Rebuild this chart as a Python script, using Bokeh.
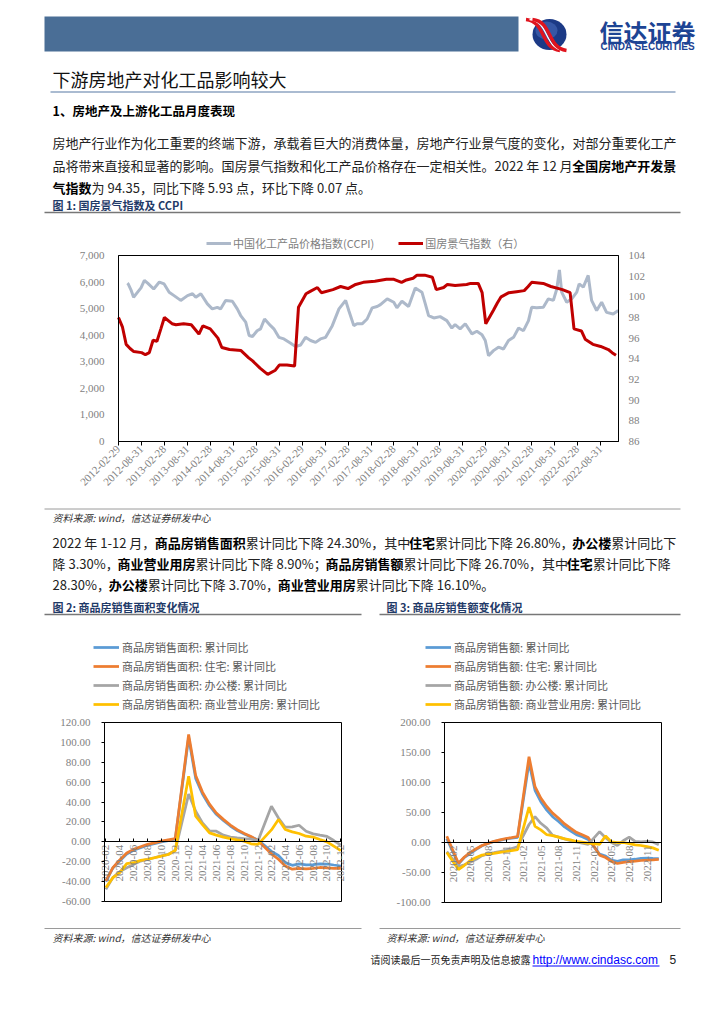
import re
import pandas as pd
from math import pi
from bokeh.plotting import figure
from bokeh.models import (Range1d, LinearAxis, DatetimeAxis, NumeralTickFormatter, FixedTicker, Legend)
from bokeh.embed import file_html
from bokeh.resources import INLINE
from bokeh.core.properties import value

CJK = "Noto Sans CJK SC"
SERIF = "Liberation Serif"
SANS = "Liberation Sans"

# ---------------- Figure 1 data ----------------
ccpi_dates = ["2012-05-10", "2012-05-16", "2012-06-07", "2012-06-28", "2012-07-30", "2012-08-26",
              "2012-09-22", "2012-10-18", "2012-12-05", "2013-01-19", "2013-02-26", "2013-04-07",
              "2013-05-16", "2013-07-08", "2013-08-31", "2013-10-10", "2013-11-05", "2013-12-15",
              "2014-02-05", "2014-03-16", "2014-04-25", "2014-05-21", "2014-06-30", "2014-08-23",
              "2014-10-01", "2014-10-28", "2014-12-07", "2015-01-03", "2015-01-30", "2015-03-08",
              "2015-04-04", "2015-05-06", "2015-06-23", "2015-07-19", "2015-08-28", "2015-10-07",
              "2015-11-30", "2016-01-08", "2016-02-17", "2016-03-27", "2016-05-06", "2016-06-15",
              "2016-07-24", "2016-09-03", "2016-10-26", "2016-12-18", "2017-02-09", "2017-03-06",
              "2017-04-15", "2017-05-11", "2017-06-20", "2017-07-30", "2017-09-08", "2017-10-18",
              "2017-11-13", "2018-01-06", "2018-02-27", "2018-03-24", "2018-05-03", "2018-06-25",
              "2018-08-17", "2018-10-09", "2018-11-05", "2018-12-01", "2019-01-11", "2019-03-03",
              "2019-04-25", "2019-06-04", "2019-06-30", "2019-08-09", "2019-09-19", "2019-11-11",
              "2019-12-20", "2020-01-30", "2020-02-25", "2020-03-22", "2020-04-30", "2020-06-09",
              "2020-07-19", "2020-08-28", "2020-10-07", "2020-11-16", "2020-12-25", "2021-02-03",
              "2021-02-28", "2021-04-09", "2021-06-01", "2021-07-11", "2021-08-20", "2021-09-16",
              "2021-10-07", "2021-10-25", "2021-12-04", "2022-01-13", "2022-02-22", "2022-03-13",
              "2022-04-15", "2022-05-24", "2022-06-20", "2022-07-30", "2022-09-08", "2022-10-17",
              "2022-12-09", "2023-01-18"]
ccpi_values = [5960, 5930, 5710, 5430, 5620, 5780, 6060, 5960, 5740, 6000, 5930, 5620,
               5490, 5310, 5490, 5560, 5430, 5560, 5180, 4990, 5050, 4990, 5310, 5280,
               4990, 4740, 4490, 3990, 3950, 4170, 4240, 4610, 4360, 4240, 3920, 3860,
               3700, 3570, 3630, 3920, 3800, 3730, 3860, 3920, 4360, 4990, 5310, 4930,
               4360, 4430, 4430, 4610, 5030, 5080, 5150, 5370, 5240, 5030, 5280, 5080,
               5780, 5620, 5180, 4740, 4650, 4700, 4550, 4270, 4400, 4240, 4430, 4050,
               4150, 4020, 3800, 3230, 3420, 3550, 3480, 3800, 3920, 4270, 4170, 4550,
               5050, 5030, 5050, 5370, 5310, 5740, 6460, 5620, 5240, 5370, 5620, 5930,
               5810, 6250, 5310, 4930, 5240, 4860, 4800, 4930]

index_months = ["2012-02", "2012-03", "2012-04", "2012-05", "2012-06", "2012-08", "2012-09", "2012-10",
                "2012-11", "2012-12", "2013-01", "2013-02", "2013-04", "2013-05", "2013-07", "2013-09",
                "2013-11", "2013-12", "2014-02", "2014-04", "2014-05", "2014-07", "2014-10", "2014-12",
                "2015-01", "2015-03", "2015-05", "2015-07", "2015-08", "2015-10", "2015-12", "2016-01",
                "2016-03", "2016-04", "2016-06", "2016-07", "2016-10", "2016-12", "2017-02", "2017-04",
                "2017-06", "2017-09", "2017-12", "2018-02", "2018-04", "2018-05", "2018-07", "2018-08",
                "2018-10", "2018-12", "2019-01", "2019-03", "2019-04", "2019-06", "2019-09", "2019-10",
                "2019-12", "2020-01", "2020-02", "2020-04", "2020-05", "2020-06", "2020-08", "2020-10",
                "2020-12", "2021-01", "2021-02", "2021-05", "2021-07", "2021-10", "2021-12", "2022-01",
                "2022-03", "2022-04", "2022-06", "2022-08", "2022-10", "2022-11", "2022-12"]
index_values = [98.0, 97.1, 95.4, 95.0, 94.7, 94.6, 94.4, 94.6,
                95.8, 95.7, 96.9, 98.0, 97.4, 97.3, 97.4, 97.3,
                96.4, 97.2, 96.9, 96.0, 95.1, 94.9, 94.8, 94.1,
                93.8, 93.1, 92.5, 92.9, 93.4, 93.4, 93.3, 99.0,
                100.3, 100.5, 100.9, 100.4, 100.7, 101.0, 100.8, 101.2,
                101.4, 101.5, 101.7, 101.7, 101.4, 101.6, 101.8, 102.1,
                102.1, 101.9, 100.7, 100.9, 101.2, 101.1, 101.2, 101.3,
                101.3, 100.4, 97.4, 98.7, 99.4, 100.0, 100.4, 100.5,
                100.6, 101.0, 101.4, 101.3, 101.0, 100.7, 100.4, 96.9,
                96.7, 95.9, 95.4, 95.2, 94.9, 94.6, 94.35]

fig1_tick_labels = ["2012-02-29", "2012-08-31", "2013-02-28", "2013-08-31", "2014-02-28", "2014-08-31",
                    "2015-02-28", "2015-08-31", "2016-02-29", "2016-08-31", "2017-02-28", "2017-08-31",
                    "2018-02-28", "2018-08-31", "2019-02-28", "2019-08-31", "2020-02-29", "2020-08-31",
                    "2021-02-28", "2021-08-31", "2022-02-28", "2022-08-31"]
fig1_names = ["中国化工产品价格指数(CCPI)", "国房景气指数（右）"]

# ---------------- Figure 2 data (sales area, cumulative YoY %) ----------------
area_months = ["2020-02", "2020-03", "2020-04", "2020-05", "2020-06", "2020-07", "2020-08", "2020-09",
               "2020-10", "2020-11", "2020-12",
               "2021-02", "2021-03", "2021-04", "2021-05", "2021-06", "2021-07", "2021-08", "2021-09",
               "2021-10", "2021-11", "2021-12",
               "2022-02", "2022-03", "2022-04", "2022-05", "2022-06", "2022-07", "2022-08", "2022-09",
               "2022-10", "2022-11", "2022-12"]
area_total = [-39.9, -26.3, -19.3, -12.3, -8.4, -5.8, -3.3, -1.8, 0.0, 1.3, 2.6,
              104.9, 63.8, 48.1, 36.3, 27.7, 21.5, 15.9, 11.3, 7.8, 4.8, 1.9,
              -9.6, -13.8, -20.9, -23.6, -22.2, -23.1, -23.0, -22.2, -22.3, -23.3, -24.3]
area_resi = [-39.2, -25.9, -18.3, -11.3, -7.6, -5.0, -2.6, -1.0, 0.7, 2.0, 3.2,
             108.0, 66.8, 50.0, 37.9, 29.0, 22.6, 16.9, 12.2, 8.5, 5.4, 1.1,
             -12.1, -17.5, -24.2, -27.5, -26.6, -27.1, -26.8, -25.8, -26.1, -26.6, -26.8]
area_office = [-47.8, -36.0, -30.0, -26.0, -22.7, -19.4, -17.5, -16.0, -14.0, -12.7, -8.7,
               48.0, 30.8, 19.0, 11.0, 10.7, 6.7, 4.7, 4.0, 3.3, 2.7, 1.2,
               35.8, 24.0, 14.7, 15.0, 16.7, 10.7, 8.0, 6.7, 5.4, 1.3, -3.3]
area_comm = [-46.0, -36.0, -31.0, -22.0, -21.0, -18.7, -17.7, -16.0, -14.4, -12.7, -8.7,
             65.9, 25.8, 17.4, 9.0, 6.7, 4.7, 3.3, 2.0, 0.7, -2.0, -2.6,
             12.0, 22.4, 12.4, 10.0, 8.4, 5.7, 4.7, 2.3, 0.0, -4.3, -8.9]
area_tick_labels = ["2020-02", "2020-04", "2020-06", "2020-08", "2020-10", "2020-12",
                    "2021-02", "2021-04", "2021-06", "2021-08", "2021-10", "2021-12",
                    "2022-02", "2022-04", "2022-06", "2022-08", "2022-10", "2022-12"]
area_names = ["商品房销售面积: 累计同比", "商品房销售面积: 住宅: 累计同比",
              "商品房销售面积: 办公楼: 累计同比", "商品房销售面积: 商业营业用房: 累计同比"]

# ---------------- Figure 3 data (sales amount, cumulative YoY %) ----------------
amt_months = ["2019-12"] + area_months
amt_total = [6.5, -35.9, -24.7, -18.6, -11.6, -5.4, -1.6, 1.6, 3.7, 5.8, 7.2, 8.7,
             133.4, 87.0, 68.0, 54.0, 43.0, 35.0, 26.0, 19.5, 13.0, 9.5, 5.0,
             -19.3, -22.7, -29.5, -31.5, -28.9, -28.8, -27.9, -26.3, -26.1, -26.6, -26.7]
amt_resi = [10.3, -34.7, -24.2, -16.5, -10.5, -5.0, -1.5, 2.0, 4.5, 6.5, 8.0, 10.0,
            143.0, 93.0, 74.0, 60.0, 49.0, 40.5, 31.0, 24.0, 17.0, 13.0, 8.5,
            -21.0, -25.0, -31.5, -35.0, -33.0, -32.0, -31.0, -30.0, -29.5, -29.0, -28.3]
amt_office = [-15.1, -40.0, -37.0, -33.0, -28.0, -22.0, -19.0, -17.0, -15.0, -13.0, -10.0, -7.0,
              30.0, 43.0, 32.0, 24.0, 12.0, 9.0, 6.0, 3.0, 1.0, -1.0, -3.0,
              18.0, 8.0, 0.0, -5.0, 3.0, 9.0, 2.0, 1.0, 2.0, 1.0, -3.7]
amt_comm = [-16.5, -45.0, -38.0, -30.0, -25.0, -21.0, -19.5, -18.0, -16.5, -15.0, -13.5, -12.0,
            59.0, 27.0, 21.0, 13.0, 11.5, 9.0, 6.0, 4.4, 1.7, 0.6, -1.0,
            -3.0, 11.0, 1.0, 0.0, 0.0, -2.0, -4.0, -5.0, -7.0, -9.0, -13.0]
amt_tick_labels = ["2020-02", "2020-05", "2020-08", "2020-11", "2021-02", "2021-05",
                   "2021-08", "2021-11", "2022-02", "2022-05", "2022-08", "2022-11"]
amt_names = ["商品房销售额: 累计同比", "商品房销售额: 住宅: 累计同比",
             "商品房销售额: 办公楼: 累计同比", "商品房销售额: 商业营业用房: 累计同比"]

series_colors = ["#5B9BD5", "#ED7D31", "#A5A5A5", "#FFC000"]

# ---------------- texts ----------------
para1 = ["房地产行业作为化工重要的终端下游，承载着巨大的消费体量，房地产行业景气度的变化，对部分重要化工产",
         "品将带来直接和显著的影响。国房景气指数和化工产品价格存在一定相关性。2022 年 12 月[全国房地产开发景]",
         "[气指数]为 94.35，同比下降 5.93 点，环比下降 0.07 点。"]
para2 = ["2022 年 1-12 月，[商品房销售面积]累计同比下降 24.30%，其中[住宅]累计同比下降 26.80%，[办公楼]累计同比下",
         "降 3.30%，[商业营业用房]累计同比下降 8.90%；[商品房销售额]累计同比下降 26.70%，其中[住宅]累计同比下降",
         "28.30%，[办公楼]累计同比下降 3.70%，[商业营业用房]累计同比下降 16.10%。"]

# ---------------- page canvas ----------------
W, H = 716, 1000


def epoch_ms(ts):
    return (pd.Timestamp(ts) - pd.Timestamp("1970-01-01")) / pd.Timedelta(milliseconds=1)


def month_end(months):
    return (pd.to_datetime(pd.Series(months)) + pd.offsets.MonthEnd(0)).values


def x_range_for(d0, d1, px0, px1):
    k = (d1 - d0) / (px1 - px0)
    return Range1d(start=d0 - px0 * k, end=d1 + (W - px1) * k)


def y_range_for(v0, v1, py_bottom, py_top):
    k = (v1 - v0) / (py_bottom - py_top)
    return Range1d(start=v0 - (H - py_bottom) * k, end=v1 + py_top * k)


p = figure(width=W, height=H, x_range=Range1d(0, W), y_range=Range1d(H, 0), min_border=0,
           toolbar_location=None, output_backend="svg", x_axis_location=None, y_axis_location=None)
p.outline_line_color = None
p.grid.visible = False


def put(x, y, s, size, color="#1a1a1a", bold=False, italic=False, font=CJK, align="left"):
    style = "bold italic" if (bold and italic) else ("bold" if bold else ("italic" if italic else "normal"))
    p.text(x=[x], y=[y], text=[s], text_font=value(font), text_font_size=f"{size}px",
           text_font_style=style, text_color=color, text_baseline="middle", text_align=align)


def width_est(s, size):
    w = 0.0
    for ch in s:
        if ord(ch) > 0x2E80:
            w += 1.0
        elif ch.isdigit():
            w += 0.553
        elif ch == " ":
            w += 0.224
        elif ch == ".":
            w += 0.26
        elif ch == "%":
            w += 0.86
        elif ch == "-":
            w += 0.33
        else:
            w += 0.52
    return w * size


def rich_line(x, y, line, size):
    for part in re.split(r"(\[[^\]]*\])", line):
        if not part:
            continue
        bold = part.startswith("[")
        txt = part.strip("[]")
        put(x, y, txt, size, bold=bold, color="#000000" if bold else "#222222")
        x += width_est(txt, size)


def style_axis(ax, font_size="11px", standoff=3):
    ax.minor_tick_line_color = None
    ax.axis_line_color = "black"
    ax.major_tick_line_color = "black"
    ax.major_label_standoff = standoff
    ax.major_label_text_font = SERIF
    ax.major_label_text_font_size = font_size
    ax.major_label_text_color = "#7F7F7F"


def style_legend(leg, spacing, glyph_h, color):
    leg.padding = 0
    leg.margin = 0
    leg.spacing = spacing
    leg.glyph_width = 26
    leg.glyph_height = glyph_h
    leg.label_height = glyph_h
    leg.label_standoff = 3
    leg.border_line_color = None
    leg.background_fill_alpha = 0
    leg.label_text_font = CJK
    leg.label_text_font_size = "11px"
    leg.label_text_color = color


# ================= header / title / paragraph 1 =================
p.quad(left=[44], right=[518], top=[16], bottom=[51], fill_color="#4A6E96", line_color=None)
p.ellipse(x=[549], y=[34], width=[34], height=[31], fill_color="#1C3A86", line_color=None)
p.ellipse(x=[546], y=[30], width=[22], height=[18], fill_color="#4C70C0", fill_alpha=0.55, line_color=None)
for off, col, w in [(-3.5, "#E0141E", 3.5), (0, "#FFFFFF", 1.4), (3.0, "#E0141E", 3.5)]:
    p.bezier(x0=[529 + off], y0=[19], x1=[563 + off], y1=[50], cx0=[549 + off], cy0=[21],
             cx1=[543 + off], cy1=[47], line_color=col, line_width=w)
put(599, 31, "信达证券", 24, color="#1D4494", bold=True)
put(600, 46, "CINDA SECURITIES", 10, color="#1D4494", bold=True, font=SANS)
put(52, 78, "下游房地产对化工品影响较大", 18, color="#111111")
p.segment(x0=[50], y0=[91.5], x1=[675], y1=[91.5], line_color="#8EA4C2", line_width=1.5)
put(52, 110, "1、房地产及上游化工品月度表现", 12.5, color="#000000", bold=True)
for i, ln in enumerate(para1):
    rich_line(52, 142 + i * 22.5, ln, 13)
put(52, 204, "图 1: 国房景气指数及 CCPI", 11, color="#1F3A68", bold=True)
p.segment(x0=[44], y0=[212], x1=[680], y1=[212], line_color="#777777", line_width=1.5)

# ================= Figure 1 =================
F1 = dict(l=118, r=618, t=255, b=441)
d1_start, d1_end = epoch_ms("2012-02-29"), epoch_ms("2023-01-20")
p.extra_x_ranges["c1x"] = x_range_for(d1_start, d1_end, F1["l"], F1["r"])
p.extra_y_ranges["c1y"] = y_range_for(0, 7000, F1["b"], F1["t"])
p.extra_y_ranges["c1r"] = y_range_for(86, 104, F1["b"], F1["t"])

r_ccpi = p.line(x=pd.to_datetime(pd.Series(ccpi_dates)).values, y=ccpi_values,
                x_range_name="c1x", y_range_name="c1y", line_color="#ADB9CA", line_width=3)
r_idx = p.line(x=month_end(index_months), y=index_values, x_range_name="c1x", y_range_name="c1r",
               line_color="#C00000", line_width=3)
p.quad(left=[F1["l"]], right=[F1["r"]], top=[F1["t"]], bottom=[F1["b"]],
       fill_color=None, line_color="black", line_width=1)

ax1l = LinearAxis(y_range_name="c1y", fixed_location=F1["l"], bounds=(0, 7000),
                  ticker=FixedTicker(ticks=list(range(0, 7001, 1000))),
                  formatter=NumeralTickFormatter(format="0,0"))
style_axis(ax1l, standoff=14)
ax1l.major_tick_out = 0
ax1l.major_tick_in = 0
p.add_layout(ax1l, "left")

ax1r = LinearAxis(y_range_name="c1r", fixed_location=F1["r"], bounds=(86, 104),
                  ticker=FixedTicker(ticks=list(range(86, 105, 2))))
style_axis(ax1r, standoff=10)
ax1r.major_tick_out = 0
ax1r.major_tick_in = 0
p.add_layout(ax1r, "right")

tick1 = [epoch_ms(t) for t in fig1_tick_labels]
ax1b = DatetimeAxis(x_range_name="c1x", y_range_name="c1y", fixed_location=0, bounds=(d1_start, d1_end),
                    ticker=FixedTicker(ticks=tick1))
ax1b.major_label_overrides = {t: lab for t, lab in zip(tick1, fig1_tick_labels)}
ax1b.major_label_orientation = pi / 4
style_axis(ax1b, standoff=2)
ax1b.major_tick_out = 4
ax1b.major_tick_in = 0
p.add_layout(ax1b, "below")

leg1 = Legend(items=[(fig1_names[0], [r_ccpi]), (fig1_names[1], [r_idx])],
              location=(206, H - 251), orientation="horizontal")
style_legend(leg1, 24, 14, "#808080")
leg1.glyph_width = 25
leg1.label_standoff = 2
p.add_layout(leg1)

# ================= source / paragraph 2 / captions =================
p.segment(x0=[44], y0=[508.5], x1=[680], y1=[508.5], line_color="#9A9A9A", line_width=1)
put(52, 517, "资料来源: wind，信达证券研发中心", 10, color="#333333", italic=True)
for i, ln in enumerate(para2):
    rich_line(52, 542 + i * 21, ln, 13)
put(52, 606, "图 2: 商品房销售面积变化情况", 11, color="#1F3A68", bold=True)
put(386, 606, "图 3: 商品房销售额变化情况", 11, color="#1F3A68", bold=True)
p.segment(x0=[44, 379], y0=[614, 614], x1=[361, 680], y1=[614, 614], line_color="#777777", line_width=1.5)


# ================= Figures 2 and 3 =================
def yoy_chart(key, box, d_start, d_end, vmin, vmax, step, xdates, series, names,
              tick_pos, tick_labels, leg_x):
    p.extra_x_ranges[key + "x"] = x_range_for(d_start, d_end, box["l"], box["r"])
    p.extra_y_ranges[key + "y"] = y_range_for(vmin, vmax, box["b"], box["t"])
    rs = []
    for vals, col in zip(series, series_colors):
        rs.append(p.line(x=xdates, y=vals, x_range_name=key + "x", y_range_name=key + "y",
                         line_color=col, line_width=2.75))
    p.quad(left=[box["l"]], right=[box["r"]], top=[box["t"]], bottom=[box["b"]],
           fill_color=None, line_color="black", line_width=1)
    ya = LinearAxis(y_range_name=key + "y", fixed_location=box["l"], bounds=(vmin, vmax),
                    ticker=FixedTicker(ticks=list(range(vmin, vmax + 1, step))),
                    formatter=NumeralTickFormatter(format="0.00"))
    style_axis(ya, standoff=11)
    ya.major_tick_out = 3
    ya.major_tick_in = 0
    p.add_layout(ya, "left")
    xa = DatetimeAxis(x_range_name=key + "x", y_range_name=key + "y", fixed_location=0,
                      bounds=(d_start, d_end), ticker=FixedTicker(ticks=tick_pos))
    xa.major_label_overrides = {t: lab for t, lab in zip(tick_pos, tick_labels)}
    xa.major_label_orientation = pi / 2
    style_axis(xa, standoff=3)
    xa.major_tick_in = 3
    xa.major_tick_out = 0
    p.add_layout(xa, "below")
    leg = Legend(items=[(n, [r]) for n, r in zip(names, rs)], location=(leg_x, H - 712),
                 orientation="vertical")
    style_legend(leg, 3, 16, "#595959")
    p.add_layout(leg)


tick2 = [epoch_ms(t) for t in month_end(area_tick_labels)]
yoy_chart("c2", dict(l=104, r=341, t=722, b=901), epoch_ms("2020-02-23"), epoch_ms("2023-01-03"),
          -60, 120, 20, month_end(area_months), [area_total, area_resi, area_office, area_comm],
          area_names, tick2, area_tick_labels, 93)

tick3 = [epoch_ms(t + "-01") for t in amt_tick_labels]
yoy_chart("c3", dict(l=444, r=661, t=722, b=902), epoch_ms("2019-12-19"), epoch_ms("2023-01-14"),
          -100, 200, 50, month_end(amt_months), [amt_total, amt_resi, amt_office, amt_comm],
          amt_names, tick3, amt_tick_labels, 425)

# ================= sources / footer =================
p.segment(x0=[44, 379], y0=[928, 928], x1=[361, 680], y1=[928, 928], line_color="#9A9A9A", line_width=1)
put(52, 937, "资料来源: wind，信达证券研发中心", 10, color="#333333", italic=True)
put(386, 937, "资料来源: wind，信达证券研发中心", 10, color="#333333", italic=True)
put(370, 959, "请阅读最后一页免责声明及信息披露", 10, color="#222222")
put(532, 959, "http://www.cindasc.com", 12, color="#0000FF", font=SANS)
p.segment(x0=[532], y0=[965.5], x1=[659], y1=[965.5], line_color="#0000FF", line_width=1)
put(669, 959, "5", 12, color="#222222", font=SANS)

open("out.html", "w").write(file_html(p, INLINE))
